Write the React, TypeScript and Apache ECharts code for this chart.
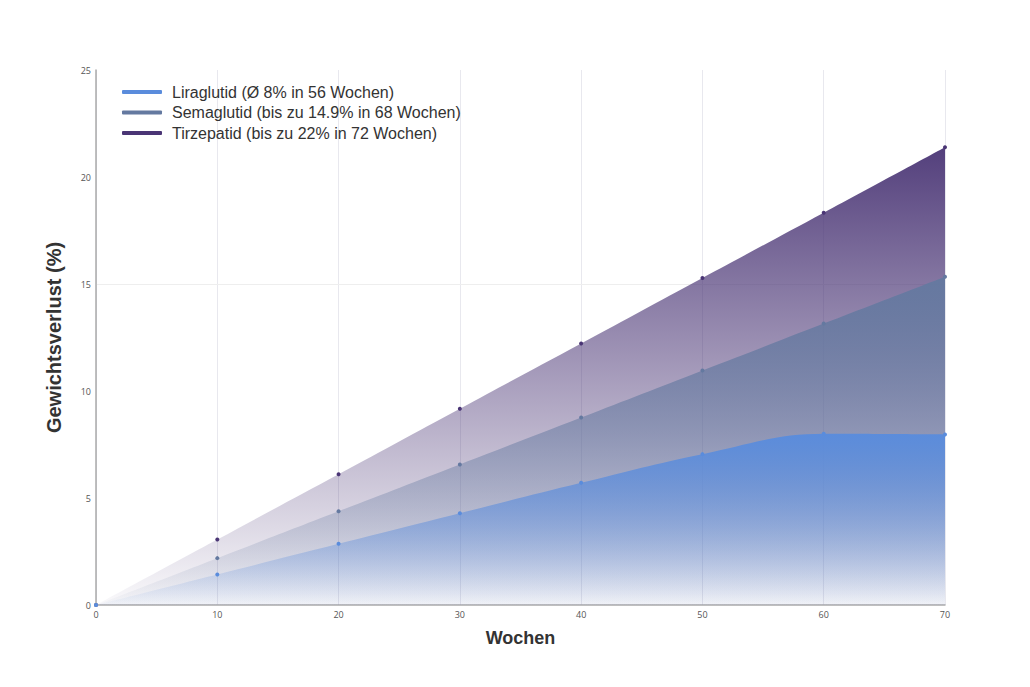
import React, { useEffect, useRef } from "react";
import * as echarts from "echarts";

const weeks = [0, 10, 20, 30, 40, 50, 60, 70];
const liraglutid = [0, 1.43, 2.86, 4.29, 5.71, 7.05, 8.0, 7.97];
const semaglutid = [0, 2.19, 4.38, 6.57, 8.76, 10.96, 13.15, 15.34];
const tirzepatid = [0, 3.06, 6.11, 9.17, 12.22, 15.28, 18.33, 21.39];
const seriesNames = [
  "Liraglutid (Ø 8% in 56 Wochen)",
  "Semaglutid (bis zu 14.9% in 68 Wochen)",
  "Tirzepatid (bis zu 22% in 72 Wochen)",
];
const colors = ["#5a8cdc", "#6479a0", "#4a3575"];
const rgb = [
  [90, 140, 220],
  [100, 121, 160],
  [74, 53, 117],
];

const FONT = "'Liberation Sans', Arial, sans-serif";

export default function App() {
  const ref = useRef<HTMLDivElement>(null);
  useEffect(() => {
    if (!ref.current) return;
    const chart = echarts.init(ref.current, undefined, { renderer: "svg" });
    const values = [liraglutid, semaglutid, tirzepatid];
    const grad = (i: number, a0: number, a1: number) => ({
      type: "linear",
      x: 0,
      y: 0,
      x2: 0,
      y2: 1,
      colorStops: [
        { offset: 0, color: `rgba(${rgb[i].join(",")},${a0})` },
        { offset: 1, color: `rgba(${rgb[i].join(",")},${a1})` },
      ],
    });
    const order = [2, 1, 0];
    const series = order.map((i, k) => ({
      name: seriesNames[i],
      type: "line",
      smooth: 0.4,
      z: 2 + k,
      data: weeks.map((w, j) => [w, values[i][j]]),
      symbol: "circle",
      symbolSize: 4,
      showSymbol: true,
      itemStyle: { color: colors[i] },
      lineStyle: { color: colors[i], width: 0 },
      areaStyle: { color: grad(i, i === 0 ? 0.98 : 0.95, 0.03), opacity: 1 },
      markLine:
        i === 2
          ? {
              silent: true,
              symbol: "none",
              label: { show: false },
              lineStyle: { color: "#eeeeee", type: "solid", width: 1 },
              data: [{ yAxis: 15 }],
              z: 0,
            }
          : undefined,
    }));
    chart.setOption({
      animation: false,
      backgroundColor: "#ffffff",
      grid: { left: 88, right: 77, top: 62, bottom: 74, containLabel: false },
      legend: {
        orient: "vertical",
        left: 109,
        top: 71,
        icon: "roundRect",
        itemWidth: 40,
        itemHeight: 4,
        itemGap: 4.5,
        data: seriesNames.map((n, i) => ({ name: n, itemStyle: { color: colors[i] } })),
        textStyle: {
          fontSize: 16,
          color: "#333",
          fontFamily: FONT,
          lineHeight: 16,
          padding: [0, 0, 0, 5],
        },
      },
      xAxis: {
        type: "value",
        min: 0,
        max: 70,
        interval: 10,
        name: "Wochen",
        nameLocation: "middle",
        nameGap: 24,
        nameTextStyle: { fontSize: 18, fontWeight: "bold", color: "#333", fontFamily: FONT },
        axisLine: { show: true, lineStyle: { color: "#aaaaaa", width: 1.5 } },
        axisTick: { show: false },
        axisLabel: { fontSize: 9, color: "#555", margin: 5, fontFamily: "'Open Sans', sans-serif" },
        splitLine: { show: true, lineStyle: { color: "#e8e8ee", width: 1 } },
      },
      yAxis: {
        type: "value",
        min: 0,
        max: 25,
        interval: 5,
        name: "Gewichtsverlust (%)",
        nameLocation: "middle",
        nameGap: 32,
        nameRotate: 90,
        nameTextStyle: { fontSize: 20, fontWeight: "bold", color: "#333", fontFamily: FONT },
        axisLine: { show: true, lineStyle: { color: "#aaaaaa", width: 1.5 } },
        axisTick: { show: false },
        axisLabel: { fontSize: 9, color: "#555", margin: 5, fontFamily: "'Open Sans', sans-serif" },
        splitLine: { show: false },
      },
      series,
    });
    return () => chart.dispose();
  }, []);
  return <div ref={ref} style={{ width: 1014, height: 671 }} />;
}
